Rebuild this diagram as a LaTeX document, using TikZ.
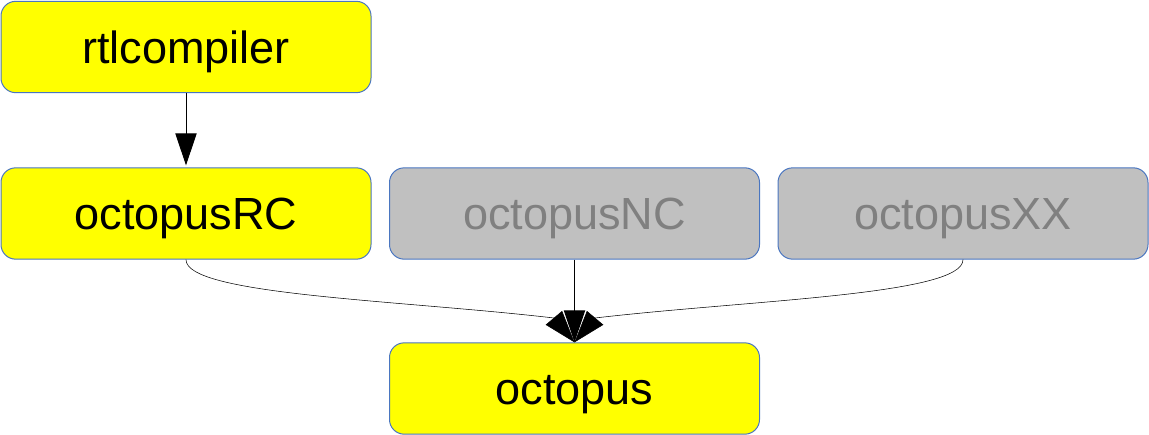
\documentclass[tikz,border=0pt]{standalone}
\usepackage{fontspec}
\setmainfont{Liberation Sans}
\usetikzlibrary{arrows.meta}
\definecolor{bordc}{HTML}{4A76C0}
\definecolor{boxgrey}{HTML}{C0C0C0}
\definecolor{textgrey}{HTML}{808080}
\definecolor{boxyellow}{HTML}{FFFF00}
\begin{document}
\begin{tikzpicture}[x=0.75pt,y=-0.75pt,
  box/.style={draw=bordc, line width=0.75pt, rounded corners=11pt,
    minimum width=277.5pt, minimum height=68.5pt, inner sep=0pt,
    text height=24.2pt, text depth=0pt, font=\fontsize{33.8}{40}\selectfont},
  yel/.style={box, fill=boxyellow, text=black},
  gry/.style={box, fill=boxgrey, text=textgrey},
  tipped/.style={-{Triangle[length=24pt,width=16pt]}},
  straightline/.style={tipped, line width=0.75pt},
  curveline/.style={tipped, line width=0.4pt},
]
\useasboundingbox (0,0) rectangle (1149,435);
\node[yel] (rtl) at (186,47) {rtlcompiler};
\node[yel] (rc) at (186,213.5) {octopusRC};
\node[gry] (nc) at (574.5,213.5) {octopusNC};
\node[gry] (xx) at (963,213.5) {octopusXX};
\node[yel] (oct) at (574.5,388.5) {octopus};
\coordinate (lbase) at (554,318);
\coordinate (rbase) at (595,318);
\draw[straightline, shorten >=1.5pt] (rtl.south) -- (rc.north);
\draw[straightline] (nc.south) -- (oct.north);
\draw[curveline] (rc.south) .. controls (186,295) and (400,300) .. (lbase) -- (oct.north);
\draw[curveline] (xx.south) .. controls (963,295) and (749,300) .. (rbase) -- (oct.north);
\end{tikzpicture}
\end{document}
